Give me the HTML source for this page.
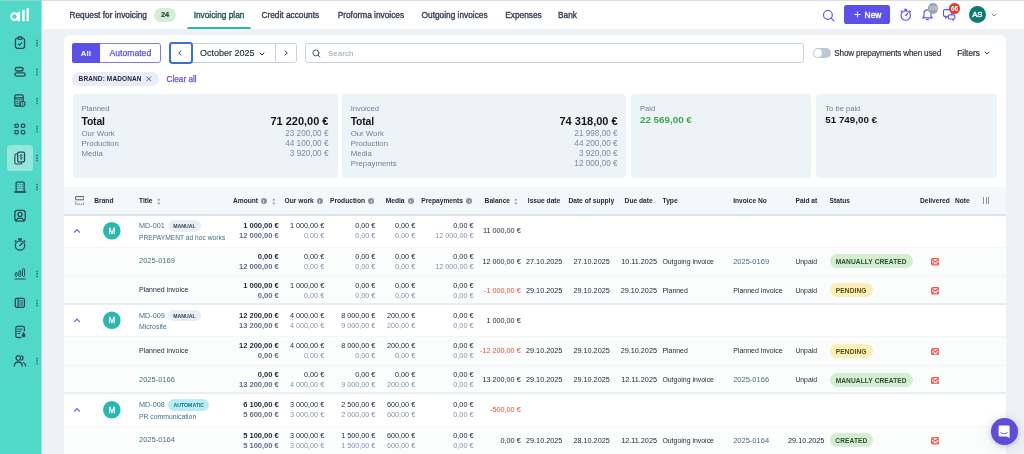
<!DOCTYPE html>
<html><head><meta charset="utf-8"><title>Invoicing plan</title><style>
*{box-sizing:border-box;margin:0;padding:0}
html,body{width:1024px;height:454px;overflow:hidden;background:#edf2f7;font-family:"Liberation Sans",sans-serif;color:#1e2434}
.a{position:absolute;white-space:nowrap}
#root{position:relative;width:1024px;height:454px;overflow:hidden;will-change:transform;transform:translateZ(0)}
.nav{font-size:8.3px;line-height:10px;color:#373f51;top:10.4px;-webkit-text-stroke:.35px #373f51}
.m{-webkit-text-stroke:.25px currentColor}
.th{font-size:6.65px;font-weight:700;line-height:8px;top:196.8px;color:#222a3b}
.n{font-size:7.25px;line-height:9px;text-align:right}
.n.b{font-size:7.55px}
.t{font-size:7.05px;line-height:9px}
.b{font-weight:700}
.g{color:#8593af}
.g2{color:#5f6c89}
.r{color:#e8513b}
.lk{color:#41708a}
.pill{height:14px;border-radius:7px;font-size:6.6px;font-weight:700;line-height:15.2px;padding:0 6px;letter-spacing:.1px}
.tag{height:11.6px;border-radius:6px;font-size:5.2px;font-weight:700;line-height:12.8px;padding:0 5px}
.info{width:6.2px;height:6.2px;border-radius:50%;background:#8894a6;top:198.3px}
.info:after{content:"";position:absolute;left:2.7px;top:1.5px;width:.8px;height:3.2px;background:rgba(255,255,255,.55)}
.av{width:17.4px;height:17.4px;border-radius:50%;background:#2cb7aa;color:#fff;font-size:8.4px;font-weight:700;line-height:17.6px;text-align:center}
</style></head><body><div id="root">
<div class="a" style="left:0;top:0;width:1024px;height:29px;background:#fff"></div>
<div class="a" style="left:0;top:0;width:1024px;height:1px;background:#dcdedf"></div>
<div class="a" style="left:0;top:0;width:41px;height:454px;background:#52d8c9"></div>
<div class="a" style="left:41px;top:0;width:1px;height:454px;background:#9fe5df"></div>
<div class="a" style="left:0;top:0;width:41.500px;height:1px;background:#8fd0c9"></div>
<svg class="a" style="left:0;top:0" width="42" height="30" viewBox="0 0 42 30"><g fill="none" stroke="#fff" stroke-linecap="butt">
<circle cx="14.450" cy="16.600" r="3.300" stroke-width="2.050"/><path d="M18.850 11.800V21.350M23.450 10.050V21.300M27.800 8.100V21.300" stroke-width="2.450"/></g></svg>
<div class="a" style="left:6.7px;top:145.3px;width:26.4px;height:26px;border-radius:3.5px;background:rgba(255,255,255,.38)"></div>
<svg class="a" style="left:12.700px;top:35.7px" width="14" height="14" viewBox="-7 -7 14 14" fill="none" stroke="#2b4a50" stroke-width="1.3" stroke-linecap="round" stroke-linejoin="round"><rect x="-4.55" y="-4.9" width="9.1" height="10.2" rx="2.1"/><rect x="-2.1" y="-6" width="4.2" height="2.3" rx="1" fill="#52d8c9"/><path d="M-1.7 .9l1.3 1.3 2.3-2.5" stroke-width="1.1"/></svg>
<svg class="a" style="left:35px;top:37.70px" width="4" height="10" viewBox="0 0 4 10" fill="#2d666a"><rect x="1.300" y="1.650" width="1.500" height="1.500" rx=".3"/><rect x="1.300" y="4.250" width="1.500" height="1.500" rx=".3"/><rect x="1.300" y="6.850" width="1.500" height="1.500" rx=".3"/></svg>
<svg class="a" style="left:12.700px;top:64.6px" width="14" height="14" viewBox="-7 -7 14 14" fill="none" stroke="#2b4a50" stroke-width="1.3" stroke-linecap="round" stroke-linejoin="round"><rect x="-4.75" y="-4.5" width="7.900" height="3.5" rx="1.75"/><rect x="-5.05" y=".85" width="10.200" height="3.2" rx="1.6"/></svg>
<svg class="a" style="left:35px;top:66.60px" width="4" height="10" viewBox="0 0 4 10" fill="#2d666a"><rect x="1.300" y="1.650" width="1.500" height="1.500" rx=".3"/><rect x="1.300" y="4.250" width="1.500" height="1.500" rx=".3"/><rect x="1.300" y="6.850" width="1.500" height="1.500" rx=".3"/></svg>
<svg class="a" style="left:12.700px;top:93.5px" width="14" height="14" viewBox="-7 -7 14 14" fill="none" stroke="#2b4a50" stroke-width="1.3" stroke-linecap="round" stroke-linejoin="round"><rect x="-5.15" y="-6.1" width="8.3" height="11.1" rx="1"/><path d="M-5.1 -3.1h8.200" /><path d="M-3.400 -1.2h1M-1.300 -1.2h1M.8 -1.2h1M-3.400 .8h1M-1.300 .8h1M-3.400 2.800h1M-1.300 2.800h1" stroke-width=".9"/><circle cx="2.600" cy="2.800" r="2.500" fill="#52d8c9" stroke-width="1.100"/><path d="M2.600 1.800v2" stroke-width=".8"/></svg>
<svg class="a" style="left:35px;top:95.50px" width="4" height="10" viewBox="0 0 4 10" fill="#2d666a"><rect x="1.300" y="1.650" width="1.500" height="1.500" rx=".3"/><rect x="1.300" y="4.250" width="1.500" height="1.500" rx=".3"/><rect x="1.300" y="6.850" width="1.500" height="1.500" rx=".3"/></svg>
<svg class="a" style="left:12.700px;top:122.4px" width="14" height="14" viewBox="-7 -7 14 14" fill="none" stroke="#2b4a50" stroke-width="1.3" stroke-linecap="round" stroke-linejoin="round"><g stroke-width="1.200"><rect x="-5.100" y="-4.900" width="3.300" height="3.300" rx="1"/><rect x="1.400" y="-4.900" width="3.400" height="3.300" rx="1"/><rect x="-5.100" y="1.500" width="3.300" height="3.300" rx="1"/><rect x="1.400" y="1.500" width="3.400" height="3.300" rx="1"/></g></svg>
<svg class="a" style="left:35px;top:124.40px" width="4" height="10" viewBox="0 0 4 10" fill="#2d666a"><rect x="1.300" y="1.650" width="1.500" height="1.500" rx=".3"/><rect x="1.300" y="4.250" width="1.500" height="1.500" rx=".3"/><rect x="1.300" y="6.850" width="1.500" height="1.500" rx=".3"/></svg>
<svg class="a" style="left:12.700px;top:151.3px" width="14" height="14" viewBox="-7 -7 14 14" fill="none" stroke="#2b4a50" stroke-width="1.3" stroke-linecap="round" stroke-linejoin="round"><path d="M-2.700 -4h-1.200a1.200 1.200 0 0 0-1.200 1.200v7.600a1.200 1.200 0 0 0 1.200 1.200h4.500a1.200 1.200 0 0 0 1.200-1.200v-.6" stroke-width="1.100"/><rect x="-2.300" y="-5.950" width="6.800" height="9.900" rx="1.300"/><path d="M2.300 -2.500c-.4-.6-2.200-.7-2.200.4 0 1.200 2.300.6 2.300 1.800 0 1.100-2 1.100-2.400.3M1.150 -3.500v.6M1.150 .9v.6" stroke-width=".9"/></svg>
<svg class="a" style="left:35px;top:153.30px" width="4" height="10" viewBox="0 0 4 10" fill="#2d666a"><rect x="1.300" y="1.650" width="1.500" height="1.500" rx=".3"/><rect x="1.300" y="4.250" width="1.500" height="1.500" rx=".3"/><rect x="1.300" y="6.850" width="1.500" height="1.500" rx=".3"/></svg>
<svg class="a" style="left:12.700px;top:180.2px" width="14" height="14" viewBox="-7 -7 14 14" fill="none" stroke="#2b4a50" stroke-width="1.3" stroke-linecap="round" stroke-linejoin="round"><rect x="-3.850" y="-4.850" width="8" height="9.800" rx=".8"/><path d="M-5.400 5h11.100"/><path d="M-2.250 -2.600h.7M-.2 -2.600h.7M1.850 -2.600h.7M-2.250 -.5h.7M-.2 -.5h.7M1.850 -.5h.7M-2.250 1.600h.7M-.2 1.600h.7M1.850 1.600h.7" stroke-width=".95" stroke-linecap="butt"/></svg>
<svg class="a" style="left:35px;top:182.20px" width="4" height="10" viewBox="0 0 4 10" fill="#2d666a"><rect x="1.300" y="1.650" width="1.500" height="1.500" rx=".3"/><rect x="1.300" y="4.250" width="1.500" height="1.500" rx=".3"/><rect x="1.300" y="6.850" width="1.500" height="1.500" rx=".3"/></svg>
<svg class="a" style="left:12.700px;top:209.1px" width="14" height="14" viewBox="-7 -7 14 14" fill="none" stroke="#2b4a50" stroke-width="1.3" stroke-linecap="round" stroke-linejoin="round"><rect x="-5.050" y="-5.550" width="10.200" height="10.600" rx="2.200"/><circle cx="0" cy="-1.500" r="2.050"/><path d="M-3.700 4.900c.3-1.900 1.700-2.800 3.700-2.800s3.400.9 3.700 2.800"/></svg>
<svg class="a" style="left:12.700px;top:238.0px" width="14" height="14" viewBox="-7 -7 14 14" fill="none" stroke="#2b4a50" stroke-width="1.3" stroke-linecap="round" stroke-linejoin="round"><circle cx="0" cy=".5" r="4.650"/><path d="M-1.300 -5.900h2.600" stroke-width="1.600"/><path d="M0 -5.600v1.400M-4.100 -4.300l-.9.9M4.100 -4.300l.9.9"/><path d="M0 .5l2-2.200" stroke-width="1.400"/></svg>
<svg class="a" style="left:12.700px;top:266.9px" width="14" height="14" viewBox="-7 -7 14 14" fill="none" stroke="#2b4a50" stroke-width="1.3" stroke-linecap="round" stroke-linejoin="round"><g stroke-width="1"><rect x="-4.650" y="-1.500" width="1.800" height="4" rx=".9"/><rect x="-1.150" y="-3.100" width="1.900" height="5.600" rx=".95"/><rect x="2.500" y="-5.500" width="2.100" height="8" rx="1.050"/></g><path d="M-5.200 5h10.300" stroke-width="1.150"/></svg>
<svg class="a" style="left:35px;top:268.90px" width="4" height="10" viewBox="0 0 4 10" fill="#2d666a"><rect x="1.300" y="1.650" width="1.500" height="1.500" rx=".3"/><rect x="1.300" y="4.250" width="1.500" height="1.500" rx=".3"/><rect x="1.300" y="6.850" width="1.500" height="1.500" rx=".3"/></svg>
<svg class="a" style="left:12.700px;top:295.8px" width="14" height="14" viewBox="-7 -7 14 14" fill="none" stroke="#2b4a50" stroke-width="1.3" stroke-linecap="round" stroke-linejoin="round"><rect x="-4.750" y="-4.650" width="9.200" height="9" rx="1.700"/><path d="M-1.900 -4.600v8.900"/><path d="M-.2 -2.200h2.900M-.2 -.1h2.900M-.2 2h2.900" stroke-width="1"/></svg>
<svg class="a" style="left:35px;top:297.80px" width="4" height="10" viewBox="0 0 4 10" fill="#2d666a"><rect x="1.300" y="1.650" width="1.500" height="1.500" rx=".3"/><rect x="1.300" y="4.250" width="1.500" height="1.500" rx=".3"/><rect x="1.300" y="6.850" width="1.500" height="1.500" rx=".3"/></svg>
<svg class="a" style="left:12.700px;top:324.7px" width="14" height="14" viewBox="-7 -7 14 14" fill="none" stroke="#2b4a50" stroke-width="1.3" stroke-linecap="round" stroke-linejoin="round"><path d="M4.400 -1.200v-2.800a1.600 1.600 0 0 0-1.600-1.600h-5.300a1.600 1.600 0 0 0-1.600 1.600v7.900a1.600 1.600 0 0 0 1.600 1.600h3.300"/><path d="M-2.300 -2.900h4.400M-2.300 -.7h3.300M-2.300 1.500h2.200" stroke-width="1"/><path d="M3.600 .6c.9 1.200 1.500 2.100 1.500 3a1.500 1.500 0 0 1-3 0c0-.9.600-1.800 1.500-3z" fill="#2b4a50" stroke-width=".6"/></svg>
<svg class="a" style="left:12.700px;top:353.6px" width="14" height="14" viewBox="-7 -7 14 14" fill="none" stroke="#2b4a50" stroke-width="1.3" stroke-linecap="round" stroke-linejoin="round"><circle cx="-1.700" cy="-3" r="2.300"/><path d="M-5.600 4.900c0-2.500 1.600-3.900 3.900-3.900s3.900 1.400 3.900 3.900M1.500 -5.200a2.300 2.300 0 0 1 0 4.400M3.400 1.500c1.400.5 2.200 1.700 2.200 3.400"/></svg>
<svg class="a" style="left:35px;top:355.60px" width="4" height="10" viewBox="0 0 4 10" fill="#2d666a"><rect x="1.300" y="1.650" width="1.500" height="1.500" rx=".3"/><rect x="1.300" y="4.250" width="1.500" height="1.500" rx=".3"/><rect x="1.300" y="6.850" width="1.500" height="1.500" rx=".3"/></svg>
<div class="a nav" style="top:10.3px;left:69.5px;">Request for invoicing</div>
<div class="a nav" style="top:10.3px;left:193.7px;color:#1d5653;-webkit-text-stroke-color:#1d5653;">Invoicing plan</div>
<div class="a nav" style="top:10.3px;left:261.5px;">Credit accounts</div>
<div class="a nav" style="top:10.3px;left:337.7px;">Proforma invoices</div>
<div class="a nav" style="top:10.3px;left:421.6px;">Outgoing invoices</div>
<div class="a nav" style="top:10.3px;left:505.3px;">Expenses</div>
<div class="a nav" style="top:10.3px;left:558px;">Bank</div>
<div class="a" style="left:154px;top:8px;width:22px;height:13.6px;border-radius:7px;background:#d3eed3;color:#2a4a2e;font-size:7.400px;font-weight:700;-webkit-text-stroke:.2px #2a4a2e;line-height:14px;text-align:center">24</div>
<div class="a" style="left:187px;top:27px;width:64px;height:2px;background:#2bb8aa;border-radius:2px 2px 0 0"></div>
<svg class="a" style="left:822px;top:8.5px" width="13" height="13" viewBox="0 0 13 13" fill="none" stroke="#644ff0" stroke-width="1.150" stroke-linecap="round"><circle cx="5.900" cy="5.900" r="4.400"/><path d="M9.200 9.200l2.600 2.600"/></svg>
<div class="a" style="left:843.900px;top:4.800px;width:46.400px;height:19.500px;border-radius:2.600px;background:#5b50e8"></div>
<svg class="a" style="left:853.500px;top:11px" width="7" height="7" viewBox="0 0 7 7" fill="none" stroke="#fff" stroke-width=".95"><path d="M3.500 .5v6M.5 3.500h6"/></svg>
<div class="a " style="top:9.9px;left:864.6px;color:#fff;font-size:8.400px;-webkit-text-stroke:.4px #fff;line-height:10px">New</div>
<svg class="a" style="left:899px;top:7.600px" width="13.500" height="14" viewBox="0 0 13.500 14" fill="none" stroke="#644ff0" stroke-width="1.150" stroke-linecap="round"><circle cx="6.750" cy="7.500" r="4.700"/><rect x="5.500" y="1" width="2.500" height="1.500" rx=".5" fill="#644ff0" stroke-width=".4"/><path d="M2.900 2.900L2 3.800M10.600 2.900l.9.900"/><path d="M6.750 7.500l1.700-1.900" stroke-width="1.400"/></svg>
<svg class="a" style="left:920.500px;top:7.200px" width="13" height="14" viewBox="0 0 13 14" fill="none" stroke="#644ff0" stroke-width="1.150" stroke-linecap="round" stroke-linejoin="round"><path d="M3 9.300V6.300a3.500 3.500 0 0 1 7 0v3l1.300 1.600H1.700zM5.600 12.600h1.800"/></svg>
<div class="a" style="left:927.600px;top:3.200px;width:10.800px;height:10.800px;border-radius:50%;background:#99a3b2;color:#cdd3db;font-size:5.400px;font-weight:700;line-height:10.800px;text-align:center;letter-spacing:-.1px">236</div>
<svg class="a" style="left:942px;top:8px" width="14" height="13" viewBox="0 0 14 13" fill="none" stroke="#644ff0" stroke-width="1.150" stroke-linejoin="round"><path d="M2.900 1.600h5.400a1.400 1.400 0 0 1 1.400 1.400v4a1.400 1.400 0 0 1-1.400 1.400H5.200L3.600 10V8.400h-.7A1.400 1.400 0 0 1 1.500 7V3a1.400 1.400 0 0 1 1.400-1.400z"/><path d="M7.400 6.800h4.300a1.100 1.100 0 0 1 1.100 1.100v2a1.100 1.100 0 0 1-1.100 1.100h-.3v1.200l-1.400-1.200H7.400a1.100 1.100 0 0 1-1.100-1.100v-2a1.100 1.100 0 0 1 1.100-1.100z" fill="#fff"/></svg>
<div class="a" style="left:949.200px;top:3.200px;width:10.800px;height:10.800px;border-radius:50%;background:#e03a33;color:#fff;font-size:6.500px;font-weight:700;line-height:11px;text-align:center">66</div>
<div class="a" style="left:968.700px;top:6.200px;width:17.300px;height:17.300px;border-radius:50%;background:#0f7a70;color:#fff;font-size:7.700px;-webkit-text-stroke:.4px #fff;line-height:17.500px;text-align:center">AS</div>
<svg class="a" style="left:990.500px;top:12.800px" width="6" height="4" viewBox="0 0 6 4" fill="none" stroke="#7d879c" stroke-width="1"><path d="M.7.700L3 3l2.300-2.300"/></svg>
<div class="a" style="left:64.300px;top:35px;width:941.600px;height:440px;border-radius:6px;background:#fff"></div>
<div class="a" style="left:71.600px;top:43.200px;width:89.200px;height:19.600px;border:1px solid #8279ee;border-radius:2.600px;background:#fff"></div>
<div class="a" style="left:71.600px;top:43.200px;width:28.400px;height:19.600px;border-radius:2.600px 0 0 2.600px;background:#5b50e8;color:#fff;font-size:7.900px;font-weight:700;line-height:21px;text-align:center">All</div>
<div class="a m" style="left:100px;top:43.200px;width:60.800px;height:19.600px;color:#5b50e8;font-size:8.600px;line-height:21.400px;text-align:center">Automated</div>
<div class="a" style="left:169px;top:43.200px;width:127.500px;height:19.600px;border:1px solid #c8d0dc;border-radius:2.600px;background:#fff"></div>
<div class="a" style="left:275px;top:43.200px;width:1px;height:19.600px;background:#c8d0dc"></div>
<div class="a" style="left:168.500px;top:42.200px;width:24px;height:21.600px;border:2px solid #3a72c8;border-radius:3.400px;background:#fff"></div>
<svg class="a" style="left:178.400px;top:50.200px" width="4" height="6" viewBox="0 0 4 6" fill="none" stroke="#2a3144" stroke-width="1"><path d="M3.200.600L.8 3l2.400 2.400"/></svg>
<svg class="a" style="left:284px;top:50.200px" width="4" height="6" viewBox="0 0 4 6" fill="none" stroke="#2a3144" stroke-width="1"><path d="M.8.600L3.200 3 .8 5.400"/></svg>
<div class="a " style="top:48px;left:200px;font-size:9px;line-height:10px;color:#2a3144;-webkit-text-stroke:.15px #2a3144">October 2025</div>
<svg class="a" style="left:259.300px;top:51.600px" width="6" height="4" viewBox="0 0 6 4" fill="none" stroke="#2a3144" stroke-width="1"><path d="M.7.700L3 3l2.300-2.300"/></svg>
<div class="a" style="left:305.300px;top:43.200px;width:498.500px;height:19.600px;border:1px solid #c8d0dc;border-radius:2.600px;background:#fff"></div>
<svg class="a" style="left:312.300px;top:48.800px" width="9" height="9" viewBox="0 0 9 9" fill="none" stroke="#4d5566" stroke-width="1" stroke-linecap="round"><circle cx="3.900" cy="3.900" r="3"/><path d="M6.200 6.200l1.700 1.700"/></svg>
<div class="a " style="top:49.2px;left:328px;font-size:8px;line-height:10px;color:#9aa5b8">Search</div>
<div class="a" style="left:812.900px;top:47.600px;width:18.200px;height:10.400px;border-radius:5.200px;background:#bcc7d8"></div>
<div class="a" style="left:814px;top:48.700px;width:8.200px;height:8.200px;border-radius:50%;background:#fff"></div>
<div class="a " style="top:49px;left:834.3px;font-size:8.200px;letter-spacing:-.2px;line-height:10px;color:#262c3c;-webkit-text-stroke:.15px #262c3c">Show prepayments when used</div>
<div class="a " style="top:48.9px;left:957.2px;font-size:8.200px;letter-spacing:.08px;line-height:10px;color:#262c3c;-webkit-text-stroke:.2px #262c3c">Filters</div>
<svg class="a" style="left:984px;top:51.400px" width="6" height="4" viewBox="0 0 6 4" fill="none" stroke="#3a4256" stroke-width="1"><path d="M.7.700L3 3l2.300-2.300"/></svg>
<div class="a" style="left:71.600px;top:71.700px;width:87.600px;height:14px;border-radius:7px;background:#e9edf5"></div>
<div class="a " style="top:74.2px;left:78.6px;font-size:6.500px;font-weight:700;line-height:9px;color:#1e2434;letter-spacing:.12px">BRAND: MADONAN</div>
<svg class="a" style="left:146px;top:76px" width="5.600" height="5.600" viewBox="0 0 5.600 5.600" fill="none" stroke="#5b50e8" stroke-width="1"><path d="M.5.500l4.600 4.600M5.100.500L.5 5.100"/></svg>
<div class="a m" style="top:74.5px;left:166.6px;font-size:8.180px;line-height:10px;color:#5b50e8">Clear all</div>
<div class="a" style="left:72.5px;top:93.700px;width:265.1px;height:84.300px;border-radius:4px;background:#edf4f8"></div>
<div class="a" style="left:342.2px;top:93.700px;width:283.8px;height:84.300px;border-radius:4px;background:#edf4f8"></div>
<div class="a" style="left:630.7px;top:93.700px;width:180.8px;height:84.300px;border-radius:4px;background:#edf4f8"></div>
<div class="a" style="left:816.3px;top:93.700px;width:181.0px;height:84.300px;border-radius:4px;background:#edf4f8"></div>
<div class="a " style="top:104px;left:81.5px;font-size:7.600px;line-height:9px;color:#6f7d96">Planned</div>
<div class="a " style="top:115.7px;left:81.5px;font-size:10.400px;font-weight:700;line-height:12px;color:#11151f;letter-spacing:-.15px">Total</div>
<div class="a " style="top:115.2px;right:695.5px;font-size:11px;font-weight:700;line-height:12px;color:#11151f">71 220,00 €</div>
<div class="a " style="top:128.8px;left:81.5px;font-size:7.800px;line-height:9px;color:#6f7d96">Our Work</div>
<div class="a " style="top:128.8px;right:695.5px;font-size:8.200px;line-height:9px;color:#7d8aa3">23 200,00 €</div>
<div class="a " style="top:138.85000000000002px;left:81.5px;font-size:7.800px;line-height:9px;color:#6f7d96">Production</div>
<div class="a " style="top:138.85000000000002px;right:695.5px;font-size:8.200px;line-height:9px;color:#7d8aa3">44 100,00 €</div>
<div class="a " style="top:148.9px;left:81.5px;font-size:7.800px;line-height:9px;color:#6f7d96">Media</div>
<div class="a " style="top:148.9px;right:695.5px;font-size:8.200px;line-height:9px;color:#7d8aa3">3 920,00 €</div>
<div class="a " style="top:104px;left:350.7px;font-size:7.600px;line-height:9px;color:#6f7d96">Invoiced</div>
<div class="a " style="top:115.7px;left:350.7px;font-size:10.400px;font-weight:700;line-height:12px;color:#11151f;letter-spacing:-.15px">Total</div>
<div class="a " style="top:115.2px;right:406.4px;font-size:11px;font-weight:700;line-height:12px;color:#11151f">74 318,00 €</div>
<div class="a " style="top:128.8px;left:350.7px;font-size:7.800px;line-height:9px;color:#6f7d96">Our Work</div>
<div class="a " style="top:128.8px;right:406.4px;font-size:8.200px;line-height:9px;color:#7d8aa3">21 998,00 €</div>
<div class="a " style="top:138.85000000000002px;left:350.7px;font-size:7.800px;line-height:9px;color:#6f7d96">Production</div>
<div class="a " style="top:138.85000000000002px;right:406.4px;font-size:8.200px;line-height:9px;color:#7d8aa3">44 200,00 €</div>
<div class="a " style="top:148.9px;left:350.7px;font-size:7.800px;line-height:9px;color:#6f7d96">Media</div>
<div class="a " style="top:148.9px;right:406.4px;font-size:8.200px;line-height:9px;color:#7d8aa3">3 920,00 €</div>
<div class="a " style="top:158.95000000000002px;left:350.7px;font-size:7.800px;line-height:9px;color:#6f7d96">Prepayments</div>
<div class="a " style="top:158.95000000000002px;right:406.4px;font-size:8.200px;line-height:9px;color:#7d8aa3">12 000,00 €</div>
<div class="a " style="top:104px;left:640px;font-size:7.600px;line-height:9px;color:#6f7d96">Paid</div>
<div class="a " style="top:113.7px;left:640px;font-size:9.800px;font-weight:700;line-height:11px;color:#3aa84a">22 569,00 €</div>
<div class="a " style="top:104px;left:825.3px;font-size:7.600px;line-height:9px;color:#6f7d96">To be paid</div>
<div class="a " style="top:113.7px;left:825.3px;font-size:9.800px;font-weight:700;line-height:11px;color:#11151f">51 749,00 €</div>
<div class="a" style="left:64.300px;top:186.600px;width:941.600px;height:28.400px;background:#f4f8fb"></div>
<div class="a" style="left:64.300px;top:214.300px;width:941.600px;height:1.500px;background:#dfe4ec"></div>
<svg class="a" style="left:74.800px;top:196.200px" width="9.600" height="9" viewBox="0 0 9.600 9" fill="none" stroke="#3a4256" stroke-width=".9"><rect x=".6" y=".6" width="8.400" height="3.200" rx=".5"/><path d="M.6 5.400v2.800h8.400V5.400" stroke-dasharray="1.100 .9"/></svg>
<div class="a th" style="top:196.8px;left:94.3px;">Brand</div>
<div class="a th" style="top:196.8px;left:139px;">Title</div>
<div class="a th" style="top:196.8px;left:233px;">Amount</div>
<div class="a th" style="top:196.8px;left:284.6px;">Our work</div>
<div class="a th" style="top:196.8px;left:330px;">Production</div>
<div class="a th" style="top:196.8px;left:385.7px;">Media</div>
<div class="a th" style="top:196.8px;left:421.3px;">Prepayments</div>
<div class="a th" style="top:196.8px;left:484.6px;">Balance</div>
<div class="a th" style="top:196.8px;left:527.8px;">Issue date</div>
<div class="a th" style="top:196.8px;left:568.4px;">Date of supply</div>
<div class="a th" style="top:196.8px;left:624.6px;">Due date</div>
<div class="a th" style="top:196.8px;left:662.6px;">Type</div>
<div class="a th" style="top:196.8px;left:733.2px;">Invoice No</div>
<div class="a th" style="top:196.8px;left:795.5px;">Paid at</div>
<div class="a th" style="top:196.8px;left:829.6px;">Status</div>
<div class="a th" style="top:196.8px;left:919.9px;">Delivered</div>
<div class="a th" style="top:196.8px;left:955px;">Note</div>
<div class="a info" style="left:260.7px"></div>
<div class="a info" style="left:316.6px"></div>
<div class="a info" style="left:367.9px"></div>
<div class="a info" style="left:407.6px"></div>
<div class="a info" style="left:466.2px"></div>
<svg class="a" style="left:156.8px;top:197.800px" width="3.600" height="7" viewBox="0 0 3.600 7" fill="#8b95a8"><path d="M1.800.300L3.200 2.400H.4zM1.800 6.700L.4 4.600h2.800z"/></svg>
<svg class="a" style="left:272.0px;top:197.800px" width="3.600" height="7" viewBox="0 0 3.600 7" fill="#8b95a8"><path d="M1.800.300L3.200 2.400H.4zM1.800 6.700L.4 4.600h2.800z"/></svg>
<svg class="a" style="left:513.6px;top:197.800px" width="3.600" height="7" viewBox="0 0 3.600 7" fill="#8b95a8"><path d="M1.800.300L3.200 2.400H.4zM1.800 6.700L.4 4.600h2.800z"/></svg>
<div class="a" style="left:983.0px;top:197.200px;width:1px;height:7.200px;background:#8a93a5"></div>
<div class="a" style="left:985.5px;top:197.200px;width:1px;height:7.200px;background:#8a93a5"></div>
<div class="a" style="left:988.0px;top:197.200px;width:1px;height:7.200px;background:#8a93a5"></div>
<svg class="a" style="left:70px;top:218px" width="60" height="24" viewBox="0 0 60 24"><path d="M4.500 14.10l2.450-2.500 2.450 2.500" fill="none" stroke="#7255e6" stroke-width="1.300" stroke-linecap="round" stroke-linejoin="round"/><circle cx="41.800" cy="12.70" r="8.800" fill="#2ab7b0"/><text x="41.800" y="15.65" text-anchor="middle" font-family="Liberation Sans, sans-serif" font-size="8.200" fill="#fff" stroke="#fff" stroke-width=".3">M</text></svg>
<div class="a t lk" style="top:221.35px;left:139px;font-size:7.250px">MD-001</div>
<div class="a tag" style="left:168.300px;top:220.0px;width:32.300px;padding:0;text-align:center;background:#e9edf5;color:#384157">MANUAL</div>
<div class="a t lk" style="top:232.5px;left:139px;font-size:6.7px">PREPAYMENT ad hoc works</div>
<div class="a n b" style="top:221.35px;right:745.2px;">1 000,00 €</div>
<div class="a n b g2" style="top:231.04999999999998px;right:745.2px;">12 000,00 €</div>
<div class="a n" style="top:221.35px;right:699.8px;">1 000,00 €</div>
<div class="a n g" style="top:231.04999999999998px;right:699.8px;">0,00 €</div>
<div class="a n" style="top:221.35px;right:648.6px;">0,00 €</div>
<div class="a n g" style="top:231.04999999999998px;right:648.6px;">0,00 €</div>
<div class="a n" style="top:221.35px;right:608.8px;">0,00 €</div>
<div class="a n g" style="top:231.04999999999998px;right:608.8px;">0,00 €</div>
<div class="a n" style="top:221.35px;right:550.5px;">0,00 €</div>
<div class="a n g" style="top:231.04999999999998px;right:550.5px;">12 000,00 €</div>
<div class="a n" style="top:226.2px;right:503.3px;">11 000,00 €</div>
<div class="a" style="left:64.300px;top:246.5px;width:941.600px;height:29px;background:#fbfdfd;border-top:1px solid #f4f6f8"></div>
<div class="a t lk" style="top:256.3px;left:139px;font-size:7.500px">2025-0169</div>
<div class="a n b" style="top:251.85000000000002px;right:745.2px;">0,00 €</div>
<div class="a n b g2" style="top:261.85px;right:745.2px;">12 000,00 €</div>
<div class="a n" style="top:251.85000000000002px;right:699.8px;">0,00 €</div>
<div class="a n g" style="top:261.85px;right:699.8px;">0,00 €</div>
<div class="a n" style="top:251.85000000000002px;right:648.6px;">0,00 €</div>
<div class="a n g" style="top:261.85px;right:648.6px;">0,00 €</div>
<div class="a n" style="top:251.85000000000002px;right:608.8px;">0,00 €</div>
<div class="a n g" style="top:261.85px;right:608.8px;">0,00 €</div>
<div class="a n" style="top:251.85000000000002px;right:550.5px;">0,00 €</div>
<div class="a n g" style="top:261.85px;right:550.5px;">12 000,00 €</div>
<div class="a n" style="top:256.6px;right:503.3px;">12 000,00 €</div>
<div class="a t" style="top:256.6px;left:526px;font-size:7.270px">27.10.2025</div>
<div class="a t" style="top:256.6px;left:573.4px;font-size:7.270px">27.10.2025</div>
<div class="a t" style="top:256.6px;right:367.0px;font-size:7.270px">10.11.2025</div>
<div class="a t" style="top:256.6px;left:662.4px;font-size:6.930px">Outgoing invoice</div>
<div class="a t lk" style="top:256.6px;left:733.2px;font-size:7.500px">2025-0169</div>
<div class="a t" style="top:256.6px;left:795.4px;font-size:6.820px">Unpaid</div>
<div class="a pill" style="left:829.600px;top:254.1px;width:83.2px;padding:0;text-align:center;background:#d4eed3;color:#2b4f2e">MANUALLY CREATED</div>
<svg class="a" style="left:930.750px;top:258.2px" width="8.600" height="7.400" viewBox="0 0 8.600 7.400" fill="none" stroke="#e85a52" stroke-linejoin="round"><rect x=".65" y=".65" width="7.300" height="6.200" rx="1.300" fill="#fff" stroke-width="1.300"/><path d="M1.200 1.500L4.300 4.100L7.400 1.500" stroke-width="1.300"/><path d="M1.100 6.300L3 4.500M7.500 6.300L5.600 4.500" stroke-width="1.200"/></svg>
<div class="a" style="left:64.300px;top:275.5px;width:941.600px;height:29px;background:#fbfdfd;border-top:1px solid #f4f6f8"></div>
<div class="a t" style="top:285.3px;left:139px;font-size:7px">Planned invoice</div>
<div class="a n b" style="top:280.85px;right:745.2px;">1 000,00 €</div>
<div class="a n b g2" style="top:290.85px;right:745.2px;">0,00 €</div>
<div class="a n" style="top:280.85px;right:699.8px;">1 000,00 €</div>
<div class="a n g" style="top:290.85px;right:699.8px;">0,00 €</div>
<div class="a n" style="top:280.85px;right:648.6px;">0,00 €</div>
<div class="a n g" style="top:290.85px;right:648.6px;">0,00 €</div>
<div class="a n" style="top:280.85px;right:608.8px;">0,00 €</div>
<div class="a n g" style="top:290.85px;right:608.8px;">0,00 €</div>
<div class="a n" style="top:280.85px;right:550.5px;">0,00 €</div>
<div class="a n g" style="top:290.85px;right:550.5px;">0,00 €</div>
<div class="a n r" style="top:285.6px;right:503.3px;">-1 000,00 €</div>
<div class="a t" style="top:285.6px;left:526px;font-size:7.270px">29.10.2025</div>
<div class="a t" style="top:285.6px;left:573.4px;font-size:7.270px">29.10.2025</div>
<div class="a t" style="top:285.6px;right:367.0px;font-size:7.270px">29.10.2025</div>
<div class="a t" style="top:285.6px;left:662.4px;font-size:6.930px">Planned</div>
<div class="a t" style="top:285.6px;left:733.2px;font-size:7px">Planned invoice</div>
<div class="a t" style="top:285.6px;left:795.4px;font-size:6.820px">Unpaid</div>
<div class="a pill" style="left:829.600px;top:283.1px;width:43.2px;padding:0;text-align:center;background:#fdefb8;color:#5a4a12">PENDING</div>
<svg class="a" style="left:930.750px;top:287.2px" width="8.600" height="7.400" viewBox="0 0 8.600 7.400" fill="none" stroke="#e85a52" stroke-linejoin="round"><rect x=".65" y=".65" width="7.300" height="6.200" rx="1.300" fill="#fff" stroke-width="1.300"/><path d="M1.200 1.500L4.300 4.100L7.400 1.500" stroke-width="1.300"/><path d="M1.100 6.300L3 4.500M7.500 6.300L5.600 4.500" stroke-width="1.200"/></svg>
<div class="a" style="left:64.300px;top:303px;width:941.600px;height:2px;background:#e9edf4"></div>
<svg class="a" style="left:70px;top:308px" width="60" height="24" viewBox="0 0 60 24"><path d="M4.500 13.60l2.450-2.500 2.450 2.500" fill="none" stroke="#7255e6" stroke-width="1.300" stroke-linecap="round" stroke-linejoin="round"/><circle cx="41.800" cy="12.20" r="8.800" fill="#2ab7b0"/><text x="41.800" y="15.15" text-anchor="middle" font-family="Liberation Sans, sans-serif" font-size="8.200" fill="#fff" stroke="#fff" stroke-width=".3">M</text></svg>
<div class="a t lk" style="top:310.84999999999997px;left:139px;font-size:7.250px">MD-009</div>
<div class="a tag" style="left:168.300px;top:309.5px;width:32.300px;padding:0;text-align:center;background:#e9edf5;color:#384157">MANUAL</div>
<div class="a t lk" style="top:322.0px;left:139px;font-size:6.95px">Microsite</div>
<div class="a n b" style="top:310.84999999999997px;right:745.2px;">12 200,00 €</div>
<div class="a n b g2" style="top:320.55px;right:745.2px;">13 200,00 €</div>
<div class="a n" style="top:310.84999999999997px;right:699.8px;">4 000,00 €</div>
<div class="a n g" style="top:320.55px;right:699.8px;">4 000,00 €</div>
<div class="a n" style="top:310.84999999999997px;right:648.6px;">8 000,00 €</div>
<div class="a n g" style="top:320.55px;right:648.6px;">9 000,00 €</div>
<div class="a n" style="top:310.84999999999997px;right:608.8px;">200,00 €</div>
<div class="a n g" style="top:320.55px;right:608.8px;">200,00 €</div>
<div class="a n" style="top:310.84999999999997px;right:550.5px;">0,00 €</div>
<div class="a n g" style="top:320.55px;right:550.5px;">0,00 €</div>
<div class="a n" style="top:315.7px;right:503.3px;">1 000,00 €</div>
<div class="a" style="left:64.300px;top:336px;width:941.600px;height:29px;background:#fbfdfd;border-top:1px solid #f4f6f8"></div>
<div class="a t" style="top:345.8px;left:139px;font-size:7px">Planned invoice</div>
<div class="a n b" style="top:341.35px;right:745.2px;">12 200,00 €</div>
<div class="a n b g2" style="top:351.35px;right:745.2px;">0,00 €</div>
<div class="a n" style="top:341.35px;right:699.8px;">4 000,00 €</div>
<div class="a n g" style="top:351.35px;right:699.8px;">0,00 €</div>
<div class="a n" style="top:341.35px;right:648.6px;">8 000,00 €</div>
<div class="a n g" style="top:351.35px;right:648.6px;">0,00 €</div>
<div class="a n" style="top:341.35px;right:608.8px;">200,00 €</div>
<div class="a n g" style="top:351.35px;right:608.8px;">0,00 €</div>
<div class="a n" style="top:341.35px;right:550.5px;">0,00 €</div>
<div class="a n g" style="top:351.35px;right:550.5px;">0,00 €</div>
<div class="a n r" style="top:346.1px;right:503.3px;">-12 200,00 €</div>
<div class="a t" style="top:346.1px;left:526px;font-size:7.270px">29.10.2025</div>
<div class="a t" style="top:346.1px;left:573.4px;font-size:7.270px">29.10.2025</div>
<div class="a t" style="top:346.1px;right:367.0px;font-size:7.270px">29.10.2025</div>
<div class="a t" style="top:346.1px;left:662.4px;font-size:6.930px">Planned</div>
<div class="a t" style="top:346.1px;left:733.2px;font-size:7px">Planned invoice</div>
<div class="a t" style="top:346.1px;left:795.4px;font-size:6.820px">Unpaid</div>
<div class="a pill" style="left:829.600px;top:343.6px;width:43.2px;padding:0;text-align:center;background:#fdefb8;color:#5a4a12">PENDING</div>
<svg class="a" style="left:930.750px;top:347.7px" width="8.600" height="7.400" viewBox="0 0 8.600 7.400" fill="none" stroke="#e85a52" stroke-linejoin="round"><rect x=".65" y=".65" width="7.300" height="6.200" rx="1.300" fill="#fff" stroke-width="1.300"/><path d="M1.200 1.500L4.300 4.100L7.400 1.500" stroke-width="1.300"/><path d="M1.100 6.300L3 4.500M7.500 6.300L5.600 4.500" stroke-width="1.200"/></svg>
<div class="a" style="left:64.300px;top:365px;width:941.600px;height:29px;background:#fbfdfd;border-top:1px solid #f4f6f8"></div>
<div class="a t lk" style="top:374.8px;left:139px;font-size:7.500px">2025-0166</div>
<div class="a n b" style="top:370.35px;right:745.2px;">0,00 €</div>
<div class="a n b g2" style="top:380.35px;right:745.2px;">13 200,00 €</div>
<div class="a n" style="top:370.35px;right:699.8px;">0,00 €</div>
<div class="a n g" style="top:380.35px;right:699.8px;">4 000,00 €</div>
<div class="a n" style="top:370.35px;right:648.6px;">0,00 €</div>
<div class="a n g" style="top:380.35px;right:648.6px;">9 000,00 €</div>
<div class="a n" style="top:370.35px;right:608.8px;">0,00 €</div>
<div class="a n g" style="top:380.35px;right:608.8px;">200,00 €</div>
<div class="a n" style="top:370.35px;right:550.5px;">0,00 €</div>
<div class="a n g" style="top:380.35px;right:550.5px;">0,00 €</div>
<div class="a n" style="top:375.1px;right:503.3px;">13 200,00 €</div>
<div class="a t" style="top:375.1px;left:526px;font-size:7.270px">29.10.2025</div>
<div class="a t" style="top:375.1px;left:573.4px;font-size:7.270px">29.10.2025</div>
<div class="a t" style="top:375.1px;right:367.0px;font-size:7.270px">12.11.2025</div>
<div class="a t" style="top:375.1px;left:662.4px;font-size:6.930px">Outgoing invoice</div>
<div class="a t lk" style="top:375.1px;left:733.2px;font-size:7.500px">2025-0166</div>
<div class="a t" style="top:375.1px;left:795.4px;font-size:6.820px">Unpaid</div>
<div class="a pill" style="left:829.600px;top:372.6px;width:83.2px;padding:0;text-align:center;background:#d4eed3;color:#2b4f2e">MANUALLY CREATED</div>
<svg class="a" style="left:930.750px;top:376.7px" width="8.600" height="7.400" viewBox="0 0 8.600 7.400" fill="none" stroke="#e85a52" stroke-linejoin="round"><rect x=".65" y=".65" width="7.300" height="6.200" rx="1.300" fill="#fff" stroke-width="1.300"/><path d="M1.200 1.500L4.300 4.100L7.400 1.500" stroke-width="1.300"/><path d="M1.100 6.300L3 4.500M7.500 6.300L5.600 4.500" stroke-width="1.200"/></svg>
<div class="a" style="left:64.300px;top:392px;width:941.600px;height:2px;background:#e9edf4"></div>
<svg class="a" style="left:70px;top:397px" width="60" height="24" viewBox="0 0 60 24"><path d="M4.500 14.10l2.450-2.500 2.450 2.500" fill="none" stroke="#7255e6" stroke-width="1.300" stroke-linecap="round" stroke-linejoin="round"/><circle cx="41.800" cy="12.70" r="8.800" fill="#2ab7b0"/><text x="41.800" y="15.65" text-anchor="middle" font-family="Liberation Sans, sans-serif" font-size="8.200" fill="#fff" stroke="#fff" stroke-width=".3">M</text></svg>
<div class="a t lk" style="top:400.34999999999997px;left:139px;font-size:7.250px">MD-008</div>
<div class="a tag" style="left:168.200px;top:399.0px;width:41.200px;padding:0;text-align:center;background:#b8ecf5;color:#16718a">AUTOMATIC</div>
<div class="a t lk" style="top:411.5px;left:139px;font-size:6.82px">PR communication</div>
<div class="a n b" style="top:400.34999999999997px;right:745.2px;">6 100,00 €</div>
<div class="a n b g2" style="top:410.05px;right:745.2px;">5 600,00 €</div>
<div class="a n" style="top:400.34999999999997px;right:699.8px;">3 000,00 €</div>
<div class="a n g" style="top:410.05px;right:699.8px;">3 000,00 €</div>
<div class="a n" style="top:400.34999999999997px;right:648.6px;">2 500,00 €</div>
<div class="a n g" style="top:410.05px;right:648.6px;">2 000,00 €</div>
<div class="a n" style="top:400.34999999999997px;right:608.8px;">600,00 €</div>
<div class="a n g" style="top:410.05px;right:608.8px;">600,00 €</div>
<div class="a n" style="top:400.34999999999997px;right:550.5px;">0,00 €</div>
<div class="a n g" style="top:410.05px;right:550.5px;">0,00 €</div>
<div class="a n r" style="top:405.2px;right:503.3px;">-500,00 €</div>
<div class="a" style="left:64.300px;top:425.5px;width:941.600px;height:29px;background:#fbfdfd;border-top:1px solid #f4f6f8"></div>
<div class="a t lk" style="top:435.3px;left:139px;font-size:7.500px">2025-0164</div>
<div class="a n b" style="top:430.85px;right:745.2px;">5 100,00 €</div>
<div class="a n b g2" style="top:440.85px;right:745.2px;">5 100,00 €</div>
<div class="a n" style="top:430.85px;right:699.8px;">3 000,00 €</div>
<div class="a n g" style="top:440.85px;right:699.8px;">3 000,00 €</div>
<div class="a n" style="top:430.85px;right:648.6px;">1 500,00 €</div>
<div class="a n g" style="top:440.85px;right:648.6px;">1 500,00 €</div>
<div class="a n" style="top:430.85px;right:608.8px;">600,00 €</div>
<div class="a n g" style="top:440.85px;right:608.8px;">600,00 €</div>
<div class="a n" style="top:430.85px;right:550.5px;">0,00 €</div>
<div class="a n g" style="top:440.85px;right:550.5px;">0,00 €</div>
<div class="a n" style="top:435.6px;right:503.3px;">0,00 €</div>
<div class="a t" style="top:435.6px;left:526px;font-size:7.270px">29.10.2025</div>
<div class="a t" style="top:435.6px;left:573.4px;font-size:7.270px">28.10.2025</div>
<div class="a t" style="top:435.6px;right:367.0px;font-size:7.270px">12.11.2025</div>
<div class="a t" style="top:435.6px;left:662.4px;font-size:6.930px">Outgoing invoice</div>
<div class="a t lk" style="top:435.6px;left:733.2px;font-size:7.500px">2025-0164</div>
<div class="a t" style="top:435.6px;right:199.6px;font-size:7.270px">29.10.2025</div>
<div class="a pill" style="left:829.600px;top:433.1px;width:43.5px;padding:0;text-align:center;background:#d4eed3;color:#2b4f2e">CREATED</div>
<svg class="a" style="left:930.750px;top:437.2px" width="8.600" height="7.400" viewBox="0 0 8.600 7.400" fill="none" stroke="#e85a52" stroke-linejoin="round"><rect x=".65" y=".65" width="7.300" height="6.200" rx="1.300" fill="#fff" stroke-width="1.300"/><path d="M1.200 1.500L4.300 4.100L7.400 1.500" stroke-width="1.300"/><path d="M1.100 6.300L3 4.500M7.500 6.300L5.600 4.500" stroke-width="1.200"/></svg>
<div class="a" style="left:1005.900px;top:29px;width:18.100px;height:425px;background:#edf2f7"></div>
<div class="a" style="left:991px;top:418.400px;width:26.600px;height:26.600px;border-radius:50%;background:#5d4dd8;box-shadow:0 1px 4px rgba(40,40,80,.2),0 2px 14px rgba(40,40,80,.13)"></div>
<svg class="a" style="left:998.400px;top:424.800px" width="12.400" height="13.600" viewBox="0 0 12.400 13.600"><path d="M2 .4h8.200a1.400 1.400 0 0 1 1.400 1.400v11.200L8.800 11.400H2A1.400 1.400 0 0 1 .6 10V1.800A1.400 1.400 0 0 1 2 .4z" fill="#fff"/><path d="M2.800 7.700c2 1.500 4.600 1.500 6.600 0" fill="none" stroke="#5d4dd8" stroke-width=".9" stroke-linecap="round"/></svg>
</div></body></html>
